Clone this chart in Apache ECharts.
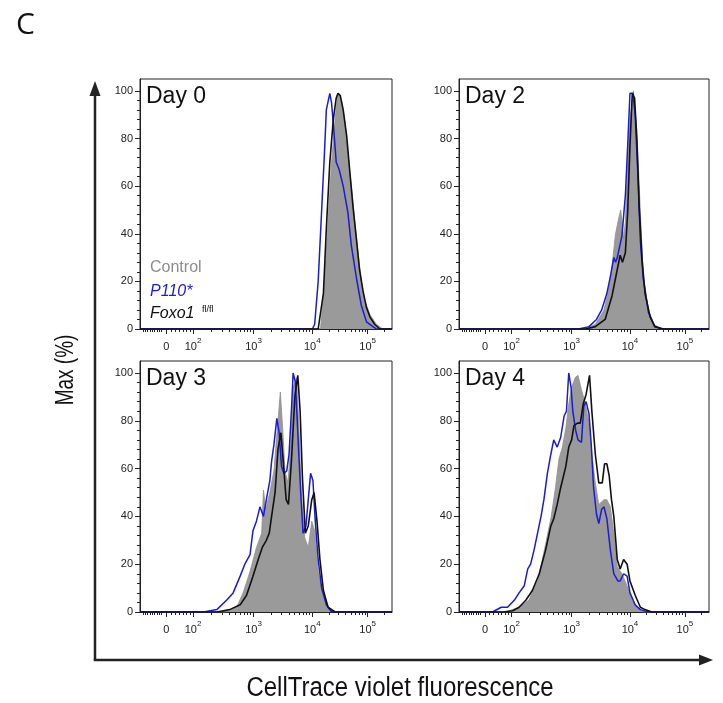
<!DOCTYPE html>
<html>
<head>
<meta charset="utf-8">
<script src="https://cdn.jsdelivr.net/npm/echarts@6/dist/echarts.min.js"></script>
<style>
html,body{margin:0;padding:0;background:#fff;}
#chart{width:723px;height:703px;}
</style>
</head>
<body>
<div id="chart"></div>
<script>
// ---------- data (x = position on the biexponential display scale, in decades; y = % of max) ----------
const panelTitles = ['Day 0', 'Day 2', 'Day 3', 'Day 4'];
const seriesNames = ['Control', 'P110*', 'Foxo1 fl/fl'];

// x tick labels: "0", 10^2, 10^3, 10^4, 10^5
const xTickPositions = [1.54, 2, 3.04, 4.05, 5];
const xTickExponents = [null, '2', '3', '4', '5'];
const yTickValues = [0, 20, 40, 60, 80, 100];

const day0Control = [[1.09,0],[4.19,0],[4.26,20],[4.32,45],[4.38,70],[4.44,88],[4.49,99],[4.55,96],[4.61,87],[4.66,74],[4.72,60],[4.78,45],[4.84,31],[4.89,20],[4.95,12],[5.04,6],[5.15,2],[5.26,0],[5.418,0]];
const day0P110 = [[1.09,0],[4.05,0],[4.09,2],[4.15,20],[4.21,50],[4.26,75],[4.29,92],[4.35,99],[4.38,95],[4.42,83],[4.46,70],[4.51,67],[4.58,60],[4.66,49],[4.72,35],[4.81,21],[4.89,10],[4.98,3],[5.09,1],[5.15,0],[5.418,0]];
const day0Foxo1 = [[1.09,0],[4.15,0],[4.24,15],[4.29,42],[4.35,70],[4.41,88],[4.46,97],[4.49,99],[4.53,98],[4.58,92],[4.64,81],[4.69,67],[4.75,51],[4.81,37],[4.86,25],[4.92,16],[4.98,9],[5.04,5],[5.12,2],[5.21,0],[5.418,0]];

const day2Control = [[1.09,0],[3.28,0],[3.45,2],[3.60,8],[3.71,20],[3.80,40],[3.85,46],[3.89,50],[3.94,38],[3.97,45],[4.01,70],[4.05,88],[4.11,100],[4.17,83],[4.23,49],[4.28,23],[4.37,8],[4.46,2],[4.60,0],[5.418,0]];
const day2P110 = [[1.09,0],[3.16,0],[3.34,1],[3.47,4],[3.56,8],[3.65,15],[3.71,22],[3.77,30],[3.80,28],[3.83,30],[3.91,39],[3.97,56],[4.01,77],[4.05,99],[4.10,99],[4.14,90],[4.19,63],[4.23,37],[4.28,21],[4.37,7],[4.48,1],[4.60,0],[5.418,0]];
const day2Foxo1 = [[1.09,0],[3.28,0],[3.45,1],[3.62,4],[3.74,14],[3.83,25],[3.88,31],[3.92,28],[3.97,32],[4.01,49],[4.05,77],[4.09,99],[4.13,97],[4.17,79],[4.21,51],[4.26,29],[4.31,15],[4.40,5],[4.48,1],[4.63,0],[5.418,0]];

const day3Control = [[1.09,0],[2.58,0],[2.75,2],[2.86,8],[2.98,17],[3.09,27],[3.18,33],[3.21,51],[3.25,43],[3.32,50],[3.39,59],[3.46,80],[3.50,92],[3.54,77],[3.58,59],[3.63,54],[3.68,70],[3.72,94],[3.78,98],[3.82,77],[3.86,50],[3.92,31],[3.98,27],[4.04,38],[4.09,34],[4.15,17],[4.24,6],[4.35,1],[4.44,0],[5.418,0]];
const day3P110 = [[1.09,0],[2.18,0],[2.41,1],[2.58,5],[2.69,8],[2.81,15],[2.89,20],[2.98,24],[3.03,34],[3.09,38],[3.15,44],[3.21,40],[3.26,47],[3.32,55],[3.35,63],[3.39,70],[3.44,81],[3.48,75],[3.52,61],[3.56,58],[3.61,59],[3.65,66],[3.69,84],[3.72,100],[3.76,96],[3.81,70],[3.85,50],[3.89,33],[3.94,36],[3.98,47],[4.02,58],[4.06,55],[4.10,38],[4.15,22],[4.21,10],[4.29,3],[4.38,0],[5.418,0]];
const day3Foxo1 = [[1.09,0],[2.41,0],[2.63,1],[2.81,3],[2.92,7],[3.03,15],[3.12,22],[3.19,27],[3.26,30],[3.31,33],[3.35,40],[3.41,50],[3.46,68],[3.51,75],[3.55,63],[3.60,47],[3.64,45],[3.69,63],[3.75,90],[3.80,99],[3.84,84],[3.88,56],[3.93,33],[3.98,36],[4.04,47],[4.08,50],[4.13,38],[4.18,22],[4.24,9],[4.32,2],[4.44,0],[5.418,0]];

const day4Control = [[1.09,0],[1.90,0],[2.13,2],[2.30,5],[2.45,13],[2.56,25],[2.68,39],[2.76,52],[2.82,64],[2.88,69],[2.94,77],[2.99,87],[3.04,94],[3.10,98],[3.15,99],[3.21,93],[3.28,87],[3.34,79],[3.39,66],[3.45,54],[3.51,45],[3.60,47],[3.65,47],[3.71,44],[3.77,33],[3.83,19],[3.91,16],[4.00,11],[4.08,5],[4.17,2],[4.28,0],[5.418,0]];
const day4P110 = [[1.09,0],[1.67,0],[1.82,2],[1.93,2],[2.05,5],[2.13,8],[2.22,11],[2.28,18],[2.33,20],[2.39,26],[2.45,33],[2.51,40],[2.56,47],[2.62,58],[2.68,66],[2.73,72],[2.79,69],[2.85,73],[2.91,82],[2.95,84],[2.99,100],[3.03,94],[3.06,84],[3.11,76],[3.15,72],[3.21,71],[3.25,86],[3.29,88],[3.34,83],[3.38,70],[3.42,52],[3.47,41],[3.51,37],[3.56,43],[3.60,44],[3.65,39],[3.71,26],[3.77,16],[3.84,13],[3.88,13],[3.94,16],[4.00,15],[4.05,8],[4.14,3],[4.23,1],[4.37,0],[5.418,0]];
const day4Foxo1 = [[1.09,0],[1.85,0],[2.02,0.5],[2.13,2],[2.25,5],[2.36,9],[2.48,16],[2.59,26],[2.68,36],[2.73,39],[2.79,45],[2.85,52],[2.94,61],[2.99,69],[3.04,72],[3.08,78],[3.14,79],[3.19,79],[3.24,87],[3.29,91],[3.35,99],[3.39,84],[3.45,66],[3.51,54],[3.57,54],[3.61,62],[3.65,62],[3.69,57],[3.73,47],[3.77,40],[3.83,22],[3.88,18],[3.94,22],[4.00,20],[4.05,13],[4.14,7],[4.23,2],[4.31,1],[4.43,0],[5.418,0]];

const panelData = [
  [day0Control, day0P110, day0Foxo1],
  [day2Control, day2P110, day2Foxo1],
  [day3Control, day3P110, day3Foxo1],
  [day4Control, day4P110, day4Foxo1]
];

// ---------- layout / style ----------
const FONT = 'Liberation Sans, Arial, sans-serif';
const X_MIN = 1.09, X_MAX = 5.418;
const grids = [
  {left: 140, top: 79, width: 252, height: 250},
  {left: 459, top: 79, width: 250, height: 250},
  {left: 140, top: 361, width: 252, height: 251},
  {left: 459, top: 361, width: 250, height: 251}
];
const COL_CONTROL = '#9a9a9a';
const COL_P110 = '#1a1ad8';
const COL_FOXO = '#111111';

// minor tick positions on the biexponential axis
const xMinorTicks = (function () {
  const t = [1.14,1.18,1.22,1.26,1.30,1.34,1.38,1.42,1.46,1.62,1.69,1.77,1.83,1.89,1.95];
  const bands = [[2, 1.04], [3.04, 1.01], [4.05, 0.95], [5, 0.95]];
  bands.forEach(function (b) {
    for (let k = 2; k <= 9; k++) {
      const p = b[0] + Math.log10(k) * b[1];
      if (p < X_MAX - 0.02) t.push(+p.toFixed(3));
    }
  });
  return t;
})();
const yMinorTicks = [];
for (let v = 0; v <= 100; v += 4) if (v % 20 !== 0) yMinorTicks.push(v);

const xAxes = [], yAxes = [], series = [];
grids.forEach(function (g, i) {
  xAxes.push({
    gridIndex: i, type: 'value', min: X_MIN, max: X_MAX, position: 'bottom',
    axisLine: {show: true, onZero: false, lineStyle: {color: '#222', width: 1}},
    axisTick: {show: true, length: 5, customValues: xTickPositions, lineStyle: {color: '#222'}},
    splitLine: {show: false},
    axisLabel: {
      show: true, margin: 8, customValues: xTickPositions,
      formatter: function (v) {
        let idx = 0, best = 1e9;
        xTickPositions.forEach(function (p, j) { if (Math.abs(p - v) < best) { best = Math.abs(p - v); idx = j; } });
        return xTickExponents[idx] === null ? '{b|0}' : '{b|10}{s|' + xTickExponents[idx] + '}';
      },
      rich: {
        b: {fontFamily: FONT, fontSize: 11, color: '#222', lineHeight: 15, verticalAlign: 'bottom'},
        s: {fontFamily: FONT, fontSize: 8, color: '#222', lineHeight: 7, verticalAlign: 'top'}
      }
    }
  });
  xAxes.push({
    gridIndex: i, type: 'value', min: X_MIN, max: X_MAX, position: 'bottom',
    axisLine: {show: false},
    axisTick: {show: true, length: 3, customValues: xMinorTicks, lineStyle: {color: '#222'}},
    splitLine: {show: false},
    axisLabel: {show: false}
  });
  yAxes.push({
    gridIndex: i, type: 'value', min: 0, max: 105, position: 'left',
    axisLine: {show: true, onZero: false, lineStyle: {color: '#222', width: 1}},
    axisTick: {show: true, length: 5, customValues: yTickValues, lineStyle: {color: '#222'}},
    splitLine: {show: false},
    axisLabel: {show: true, margin: 7, customValues: yTickValues, fontFamily: FONT, fontSize: 11, color: '#222'}
  });
  yAxes.push({
    gridIndex: i, type: 'value', min: 0, max: 105, position: 'left',
    axisLine: {show: false},
    axisTick: {show: true, length: 3, customValues: yMinorTicks, lineStyle: {color: '#222'}},
    splitLine: {show: false},
    axisLabel: {show: false}
  });
  const d = panelData[i];
  series.push({
    type: 'line', name: seriesNames[0], xAxisIndex: 2 * i, yAxisIndex: 2 * i, data: d[0],
    showSymbol: false, symbol: 'none', smooth: false,
    lineStyle: {color: '#8e8e8e', width: 0.8},
    areaStyle: {color: COL_CONTROL, opacity: 1, origin: 'start'},
    z: 2, silent: true
  });
  series.push({
    type: 'line', name: seriesNames[1], xAxisIndex: 2 * i, yAxisIndex: 2 * i, data: d[1],
    showSymbol: false, symbol: 'none', lineStyle: {color: COL_P110, width: 1.5}, z: 3, silent: true
  });
  series.push({
    type: 'line', name: seriesNames[2], xAxisIndex: 2 * i, yAxisIndex: 2 * i, data: d[2],
    showSymbol: false, symbol: 'none', lineStyle: {color: COL_FOXO, width: 1.6}, z: 4, silent: true
  });
});

const graphics = [
  {type: 'text', left: 16, top: 10, style: {text: 'C', font: '30px "Open Sans", sans-serif', fill: '#111'}},
  // big axis arrows
  {type: 'line', shape: {x1: 95, y1: 660, x2: 95, y2: 93}, style: {stroke: '#222', lineWidth: 2.5}},
  {type: 'polygon', shape: {points: [[95, 81], [89.5, 96], [100.5, 96]]}, style: {fill: '#222'}},
  {type: 'line', shape: {x1: 93.75, y1: 660, x2: 702, y2: 660}, style: {stroke: '#222', lineWidth: 2.5}},
  {type: 'polygon', shape: {points: [[713, 660], [699, 654.5], [699, 665.5]]}, style: {fill: '#222'}},
  // axis titles
  {type: 'text', x: 400, y: 688, scaleY: 1.15, style: {text: 'CellTrace violet fluorescence', font: '24px ' + FONT, fill: '#111', textAlign: 'center', textVerticalAlign: 'middle'}},
  {type: 'text', x: 66, y: 370, rotation: Math.PI / 2, scaleY: 1.4, style: {text: 'Max (%)', font: '19px ' + FONT, fill: '#111', textAlign: 'center', textVerticalAlign: 'middle'}},
  // legend inside Day 0 panel
  {type: 'text', x: 150, y: 268, style: {text: seriesNames[0], font: '16px ' + FONT, fill: '#8c8c8c', textVerticalAlign: 'middle'}},
  {type: 'text', x: 150, y: 291.5, style: {text: seriesNames[1], font: 'italic 16px ' + FONT, fill: COL_P110, textVerticalAlign: 'middle'}},
  {type: 'text', x: 150, y: 314, style: {text: 'Foxo1', font: 'italic 16px ' + FONT, fill: '#111', textVerticalAlign: 'middle'}},
  {type: 'text', x: 202, y: 310, style: {text: 'fl/fl', font: '9px ' + FONT, fill: '#111', textVerticalAlign: 'middle'}}
];
grids.forEach(function (g, i) {
  graphics.push({type: 'text', x: g.left + 6, y: g.top + 18, style: {text: panelTitles[i], font: '23px ' + FONT, fill: '#111', textVerticalAlign: 'middle'}});
});

const chart = echarts.init(document.getElementById('chart'), null, {renderer: 'canvas'});
chart.setOption({
  animation: false,
  backgroundColor: '#fff',
  grid: grids.map(function (g) { return Object.assign({show: true, borderColor: '#222', borderWidth: 1, backgroundColor: 'transparent', containLabel: false}, g); }),
  xAxis: xAxes,
  yAxis: yAxes,
  series: series,
  graphic: graphics
});
</script>
</body>
</html>
